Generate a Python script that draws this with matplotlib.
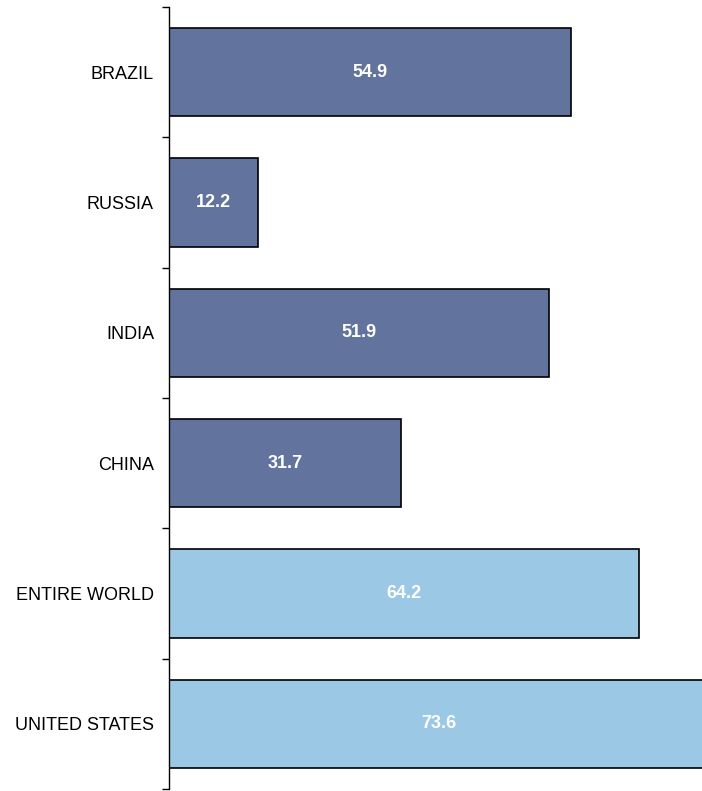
import numpy as np
import matplotlib.pyplot as plt

countries = ["BRAZIL", "RUSSIA", "INDIA", "CHINA", "ENTIRE WORLD", "UNITED STATES"]
values = [54.9, 12.2, 51.9, 31.7, 64.2, 73.6]
colors = ["#62739e", "#62739e", "#62739e", "#62739e", "#9bc9e5", "#9bc9e5"]

plt.rcParams['font.family'] = ['Liberation Sans', 'DejaVu Sans']

fig = plt.figure(figsize=(7.02, 7.91), dpi=100)
# axis line at x=169px, top 7px, bottom 789px
ax = fig.add_axes([169 / 702, 2 / 791, 1 - 169 / 702, 782 / 791])

y = np.arange(len(countries))
bars = ax.barh(y, values, height=0.68, color=colors, edgecolor="black", linewidth=1.2)

for yi, v in zip(y, values):
    ax.text(v / 2, yi, f"{v:.1f}", ha="center", va="center",
            color="white", fontsize=13, fontweight="bold")

ax.set_xlim(0, (702 - 169) / 7.32)
ax.set_ylim(len(countries) - 0.5, -0.5)

ax.set_yticks(y)
ax.set_yticklabels(countries, fontsize=13)
ax.tick_params(axis="y", which="major", length=0, pad=10.8)
ax.set_yticks(np.arange(-0.5, len(countries)), minor=True)
ax.tick_params(axis="y", which="minor", length=5, width=1, direction="out")

ax.set_xticks([])
for side in ["top", "right", "bottom"]:
    ax.spines[side].set_visible(False)
ax.spines["left"].set_linewidth(1)

fig.savefig("out.png", dpi=100)
